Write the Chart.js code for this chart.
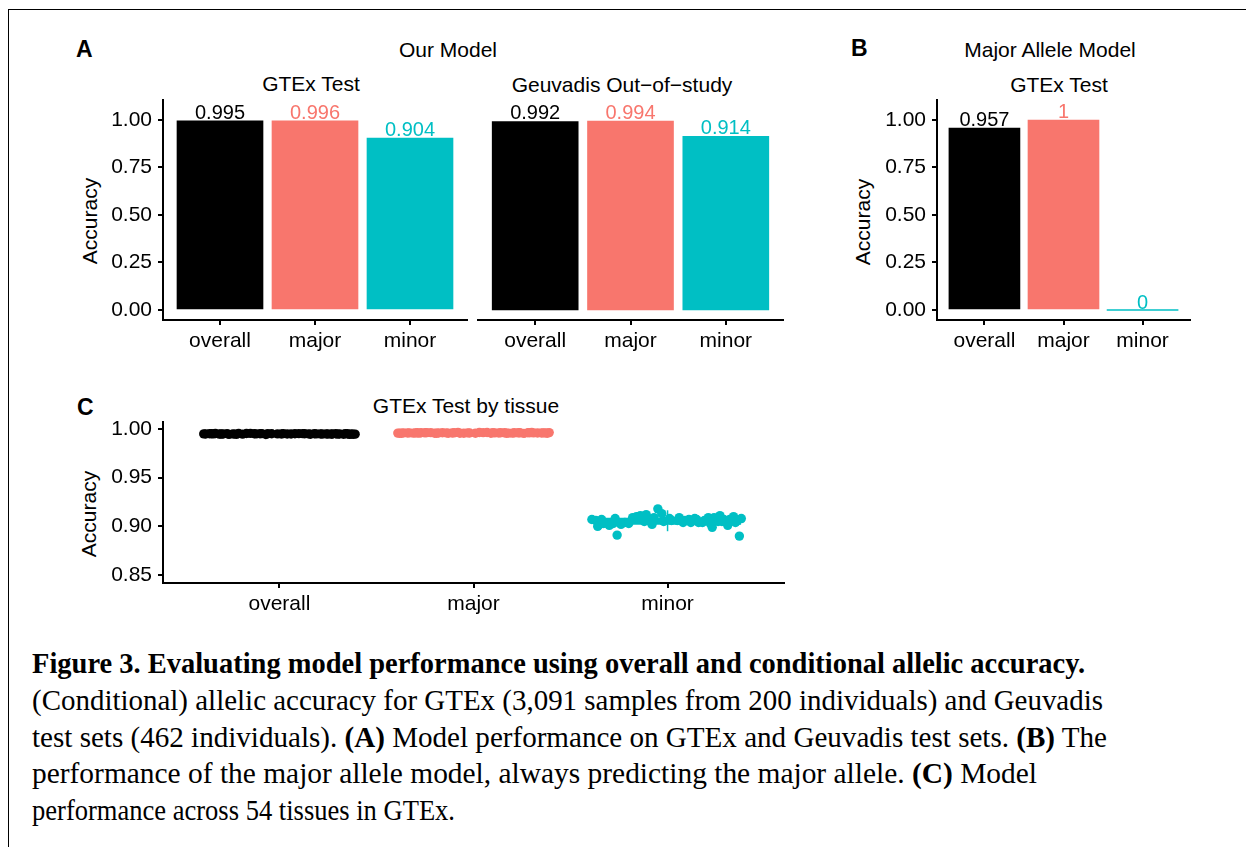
<!DOCTYPE html>
<html>
<head>
<meta charset="utf-8">
<script src="https://cdn.jsdelivr.net/npm/chart.js@4.4.1/dist/chart.umd.min.js"></script>
<style>
  html, body { margin: 0; padding: 0; background: #fff; }
  #fig { position: relative; width: 1246px; height: 847px; overflow: hidden;
         font-family: "Liberation Sans", Arial, Helvetica, sans-serif; color: #000; }
  .frame { position: absolute; left: 8px; top: 9px; right: -10px; bottom: -10px;
           border-top: 1.5px solid #000; border-left: 1.5px solid #000; }
  canvas { position: absolute; }
  .lbl { position: absolute; width: 400px; text-align: center; font-size: 21px; line-height: 20px; white-space: nowrap; }
  .tag { position: absolute; font-size: 23px; font-weight: bold; line-height: 23px; }
  .ytitle { position: absolute; width: 200px; height: 24px; line-height: 24px; text-align: center;
            font-size: 21px; transform: rotate(-90deg); }
  .cap { position: absolute; left: 32px; font-family: "Liberation Serif", "Times New Roman", serif;
         font-size: 29px; line-height: 36px; white-space: nowrap; transform-origin: 0 0; }
</style>
</head>
<body>
<div id="fig">
  <div class="frame"></div>

  <div class="tag" style="left:76px;top:38px">A</div>
  <div class="tag" style="left:851px;top:37px">B</div>
  <div class="tag" style="left:77px;top:396px">C</div>

  <div class="lbl" style="left:248px;top:40px">Our Model</div>
  <div class="lbl" style="left:111px;top:74px">GTEx Test</div>
  <div class="lbl" style="left:422px;top:75px">Geuvadis Out−of−study</div>
  <div class="lbl" style="left:850px;top:40px">Major Allele Model</div>
  <div class="lbl" style="left:859px;top:75px">GTEx Test</div>
  <div class="lbl" style="left:266px;top:396px">GTEx Test by tissue</div>

  <div class="ytitle" style="left:-10px;top:209px">Accuracy</div>
  <div class="ytitle" style="left:763px;top:210px">Accuracy</div>
  <div class="ytitle" style="left:-11px;top:502px">Accuracy</div>

  <canvas id="chartA1" width="375" height="275" style="left:100px;top:90px"></canvas>
  <canvas id="chartA2" width="320" height="275" style="left:470px;top:90px"></canvas>
  <canvas id="chartB"  width="320" height="275" style="left:880px;top:90px"></canvas>
  <canvas id="chartC"  width="700" height="215" style="left:100px;top:412px"></canvas>

  <div class="cap" data-right="1085" style="top:645px"><b>Figure 3. Evaluating model performance using overall and conditional allelic accuracy.</b></div>
  <div class="cap" data-right="1103" style="top:682px">(Conditional) allelic accuracy for GTEx (3,091 samples from 200 individuals) and Geuvadis</div>
  <div class="cap" data-right="1107" style="top:719px">test sets (462 individuals). <b>(A)</b> Model performance on GTEx and Geuvadis test sets. <b>(B)</b> The</div>
  <div class="cap" data-right="1037" style="top:755px">performance of the major allele model, always predicting the major allele. <b>(C)</b> Model</div>
  <div class="cap" data-right="455" style="top:792px">performance across 54 tissues in GTEx.</div>
</div>

<script>
// ---------------------------------------------------------------
// Dati
// ---------------------------------------------------------------
const CATS   = ['overall', 'major', 'minor'];
const COLORS = ['#000000', '#F8766D', '#00BFC4'];

// pannello A / B: accuratezza per categoria
const GTEX_ACC        = [0.995, 0.996, 0.904];
const GEUVADIS_ACC    = [0.992, 0.994, 0.914];
const MAJOR_MODEL_ACC = [0.957, 1, 0];

const BAR_TICKS    = [0, 0.25, 0.5, 0.75, 1];
const TISSUE_TICKS = [0.85, 0.90, 0.95, 1.00];

// pannello C: accuratezza per tessuto (54 tessuti) + jitter orizzontale
const OVERALL_ACC = [
  0.9950, 0.9948, 0.9953, 0.9946, 0.9951, 0.9949, 0.9955, 0.9947, 0.9952, 0.9950,
  0.9944, 0.9949, 0.9953, 0.9951, 0.9946, 0.9950, 0.9948, 0.9954, 0.9949, 0.9952,
  0.9947, 0.9950, 0.9951, 0.9945, 0.9949, 0.9953, 0.9950, 0.9948, 0.9952, 0.9946,
  0.9951, 0.9949, 0.9954, 0.9947, 0.9950, 0.9952, 0.9948, 0.9951, 0.9945, 0.9950,
  0.9953, 0.9949, 0.9947, 0.9951, 0.9950, 0.9954, 0.9948, 0.9952, 0.9946, 0.9950,
  0.9949, 0.9953, 0.9951, 0.9947];
const OVERALL_JIT = [
  -0.39, -0.31, 0.12, -0.22, 0.35, 0.04, -0.15, 0.27, -0.36, 0.19,
  -0.07, 0.31, -0.27, 0.08, 0.38, -0.12, 0.22, -0.33, 0.01, 0.29,
  -0.19, 0.15, -0.04, 0.36, -0.29, 0.10, -0.24, 0.25, -0.10, 0.33,
  -0.35, 0.06, -0.17, 0.39, -0.01, 0.18, -0.30, 0.13, -0.26, 0.24,
  0.02, -0.38, 0.30, -0.13, 0.21, -0.21, 0.37, -0.06, 0.16, -0.34,
  0.27, -0.09, 0.34, -0.23];

const MAJOR_ACC = [
  0.9960, 0.9958, 0.9963, 0.9957, 0.9961, 0.9959, 0.9964, 0.9956, 0.9962, 0.9960,
  0.9955, 0.9959, 0.9963, 0.9961, 0.9957, 0.9960, 0.9958, 0.9965, 0.9959, 0.9962,
  0.9957, 0.9960, 0.9961, 0.9956, 0.9959, 0.9963, 0.9960, 0.9958, 0.9962, 0.9957,
  0.9961, 0.9959, 0.9964, 0.9957, 0.9960, 0.9962, 0.9958, 0.9961, 0.9956, 0.9960,
  0.9963, 0.9959, 0.9957, 0.9961, 0.9960, 0.9964, 0.9958, 0.9962, 0.9956, 0.9960,
  0.9959, 0.9963, 0.9961, 0.9957];
const MAJOR_JIT = [
  0.37, -0.28, 0.05, -0.38, 0.21, -0.11, 0.30, -0.20, 0.14, -0.33,
  0.26, -0.02, 0.39, -0.25, 0.09, -0.36, 0.18, -0.08, 0.33, -0.16,
  0.01, -0.30, 0.24, -0.13, 0.35, -0.22, 0.11, -0.39, 0.28, -0.05,
  0.16, -0.34, 0.07, -0.19, 0.31, -0.27, 0.20, -0.10, 0.38, -0.03,
  -0.24, 0.13, -0.37, 0.23, -0.14, 0.03, -0.31, 0.29, -0.07, 0.36,
  -0.18, 0.10, -0.29, 0.17];

const MINOR_ACC = [
  0.906, 0.904, 0.909, 0.907, 0.903, 0.891, 0.908, 0.905, 0.910, 0.904,
  0.906, 0.909, 0.902, 0.907, 0.911, 0.905, 0.918, 0.908, 0.903, 0.906,
  0.912, 0.904, 0.907, 0.901, 0.905, 0.909, 0.903, 0.906, 0.910, 0.904,
  0.902, 0.907, 0.909, 0.905, 0.901, 0.908, 0.903, 0.890, 0.905, 0.907,
  0.903, 0.909, 0.913, 0.906, 0.900, 0.904, 0.908, 0.911, 0.902, 0.906,
  0.910, 0.904, 0.907, 0.899];
const MINOR_JIT = [
  -0.37, 0.08, -0.18, 0.29, -0.31, -0.26, 0.14, -0.09, 0.34, -0.22,
  0.02, 0.21, -0.35, 0.11, -0.14, 0.26, -0.05, 0.38, -0.28, 0.05,
  -0.11, 0.18, -0.39, 0.31, -0.02, 0.24, -0.33, 0.09, -0.16, 0.35,
  -0.24, 0.15, -0.07, 0.28, -0.30, 0.01, 0.22, 0.37, -0.12, 0.32,
  -0.20, 0.06, -0.03, 0.19, -0.36, 0.12, -0.27, 0.27, -0.08, 0.36,
  -0.15, 0.16, -0.34, 0.23];

// boxplot sotto i punti (quartili e baffi)
const BOX_Q1   = [0.9947, 0.9957, 0.9025];
const BOX_Q3   = [0.9952, 0.9962, 0.9080];
const WHISK_LO = [0.9944, 0.9955, 0.8950];
const WHISK_HI = [0.9955, 0.9965, 0.9165];

// ---------------------------------------------------------------
// Stile comune
// ---------------------------------------------------------------
const FONT = '"Liberation Sans", Arial, Helvetica, sans-serif';
Chart.defaults.font.family = FONT;
Chart.defaults.font.size   = 21;
Chart.defaults.color       = '#000';
Chart.defaults.animation   = false;
Chart.defaults.responsive  = false;
Chart.defaults.devicePixelRatio = 1;
Chart.defaults.plugins.legend.display  = false;
Chart.defaults.plugins.tooltip.enabled = false;

const AXIS_LINE  = { display: true, color: '#000', width: 2 };
const TICK_MARKS = { drawOnChartArea: false, drawTicks: true, tickLength: 5, color: '#000', lineWidth: 2, offset: false };
const catTicks   = axis => { axis.ticks = CATS.map((c, i) => ({ value: i + 1 })); };

// niente margini extra per le etichette: l'area del grafico resta quella fissata
const noPad = s => { s.paddingTop = 0; s.paddingBottom = 0; s.paddingLeft = 0; s.paddingRight = 0; };

// etichette dei valori sopra le barre, nel colore della barra
const valueLabels = {
  id: 'valueLabels',
  afterDatasetsDraw(chart) {
    const ctx = chart.ctx;
    const ds  = chart.data.datasets[0];
    chart.getDatasetMeta(0).data.forEach((bar, i) => {
      ctx.save();
      ctx.font = '20px ' + FONT;
      ctx.fillStyle = COLORS[i];
      ctx.textAlign = 'center';
      ctx.textBaseline = 'alphabetic';
      ctx.fillText(String(ds.data[i].y), bar.x, bar.y - 2);
      ctx.restore();
    });
  }
};

function barChart(id, values, o) {
  return new Chart(document.getElementById(id), {
    type: 'bar',
    data: {
      datasets: [{
        data: values.map((v, i) => ({ x: i + 1, y: v })),
        backgroundColor: COLORS,
        barThickness: o.barW,
        minBarLength: 1,
        borderWidth: 0
      }]
    },
    options: {
      layout: { padding: o.pad },
      scales: {
        x: {
          type: 'linear', min: 0.4, max: 3.6, offset: false,
          afterBuildTicks: catTicks,
          afterFit: s => { s.height = 45; noPad(s); },
          border: AXIS_LINE, grid: TICK_MARKS,
          ticks: { callback: v => CATS[v - 1], padding: 4, maxRotation: 0, autoSkip: false }
        },
        y: {
          display: o.showY, min: -0.0526, max: 1.105,
          afterBuildTicks: a => { a.ticks = BAR_TICKS.map(v => ({ value: v })); },
          afterFit: s => { s.width = o.yW; noPad(s); },
          border: AXIS_LINE, grid: TICK_MARKS,
          ticks: { callback: v => v.toFixed(2), padding: 6 }
        }
      }
    },
    plugins: [valueLabels]
  });
}

barChart('chartA1', GTEX_ACC,        { showY: true,  yW: 63, barW: 86, pad: { top: 10, right: 8,  left: 0, bottom: 0 } });
barChart('chartA2', GEUVADIS_ACC,    { showY: false, yW: 0,  barW: 86, pad: { top: 10, right: 7,  left: 8, bottom: 0 } });
barChart('chartB',  MAJOR_MODEL_ACC, { showY: true,  yW: 57, barW: 71, pad: { top: 10, right: 10, left: 0, bottom: 0 } });

// ---------------------------------------------------------------
// Pannello C: jitter + boxplot
// ---------------------------------------------------------------
const groups = [
  [OVERALL_ACC, OVERALL_JIT],
  [MAJOR_ACC,   MAJOR_JIT],
  [MINOR_ACC,   MINOR_JIT]
];

const cDatasets = [];
CATS.forEach((c, g) => {
  const x = g + 1, hw = 0.375;
  cDatasets.push({
    type: 'line', order: 3,
    data: [{ x: x - hw, y: BOX_Q1[g] }, { x: x + hw, y: BOX_Q1[g] }, { x: x + hw, y: BOX_Q3[g] },
           { x: x - hw, y: BOX_Q3[g] }, { x: x - hw, y: BOX_Q1[g] }],
    borderColor: COLORS[g], backgroundColor: COLORS[g], borderWidth: 1.5,
    pointRadius: 0, fill: 'shape', tension: 0
  });
  cDatasets.push({
    type: 'line', order: 2,
    data: [{ x: x, y: WHISK_LO[g] }, { x: x, y: WHISK_HI[g] }],
    borderColor: COLORS[g], borderWidth: 1.5, pointRadius: 0, fill: false
  });
  const [acc, jit] = groups[g];
  cDatasets.push({
    type: 'scatter', order: 0,
    data: acc.map((v, i) => ({ x: x + jit[i], y: v })),
    backgroundColor: COLORS[g], borderWidth: 0, pointRadius: 4.7
  });
});

new Chart(document.getElementById('chartC'), {
  type: 'scatter',
  data: { datasets: cDatasets },
  options: {
    layout: { padding: { top: 10, right: 16, left: 0, bottom: 0 } },
    scales: {
      x: {
        type: 'linear', min: 0.4, max: 3.6, offset: false,
        afterBuildTicks: catTicks,
        afterFit: s => { s.height = 44; noPad(s); },
        border: AXIS_LINE, grid: TICK_MARKS,
        ticks: { callback: v => CATS[v - 1], padding: 4, maxRotation: 0, autoSkip: false }
      },
      y: {
        min: 0.8418, max: 1.0072,
        afterBuildTicks: a => { a.ticks = TISSUE_TICKS.map(v => ({ value: v })); },
        afterFit: s => { s.width = 63; noPad(s); },
        border: AXIS_LINE, grid: TICK_MARKS,
        ticks: { callback: v => v.toFixed(2), padding: 6 }
      }
    }
  }
});

// ---------------------------------------------------------------
// Didascalia: adatta ogni riga alla larghezza dell'originale
// ---------------------------------------------------------------
document.querySelectorAll('.cap').forEach(el => {
  const w = el.getBoundingClientRect().width;
  const target = +el.dataset.right - 32;
  el.style.transform = 'scaleX(' + (target / w) + ')';
});
</script>
</body>
</html>
